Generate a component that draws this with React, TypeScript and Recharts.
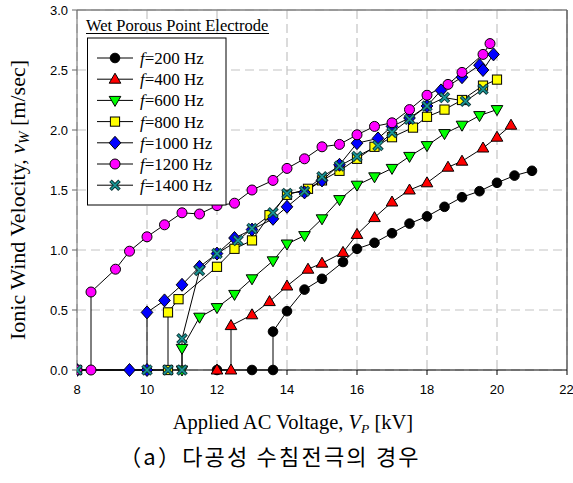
import React from 'react';
import { LineChart, Line, XAxis, YAxis, CartesianGrid, ReferenceLine } from 'recharts';

// ---- data (kV, m/sec) ----
const x200 = [12, 13, 13.6, 13.6, 14, 14.5, 15, 15.6, 16, 16.5, 17, 17.5, 18, 18.5, 19, 19.5, 20, 20.5, 21];
const y200 = [0, 0, 0, 0.32, 0.49, 0.67, 0.76, 0.9, 1.01, 1.06, 1.14, 1.22, 1.28, 1.36, 1.44, 1.49, 1.56, 1.62, 1.66];

const x400 = [12, 12.4, 12.4, 13, 13.5, 14, 14.6, 15, 15.6, 16, 16.5, 17, 17.5, 18, 18.6, 19, 19.6, 20, 20.4];
const y400 = [0, 0, 0.37, 0.46, 0.57, 0.7, 0.84, 0.89, 0.98, 1.13, 1.27, 1.4, 1.5, 1.56, 1.69, 1.74, 1.85, 1.94, 2.04];

const x600 = [11, 11, 11.5, 12, 12.5, 13, 13.6, 14, 14.5, 15, 15.5, 16, 16.5, 17, 17.5, 18, 18.5, 19, 19.5, 20];
const y600 = [0, 0.18, 0.44, 0.52, 0.63, 0.76, 0.91, 1.05, 1.12, 1.26, 1.42, 1.54, 1.61, 1.68, 1.78, 1.87, 1.97, 2.04, 2.12, 2.17];

const x800 = [8, 10.6, 10.6, 10.9, 12, 12.5, 13, 13.5, 14, 14.6, 15, 15.5, 16, 16.5, 17, 17.6, 18, 18.5, 19, 19.6, 20];
const y800 = [0, 0, 0.48, 0.59, 0.86, 1.01, 1.08, 1.29, 1.46, 1.51, 1.58, 1.66, 1.76, 1.86, 1.94, 2.02, 2.11, 2.17, 2.25, 2.37, 2.42];

const x1000 = [8, 9.5, 10, 10, 10.5, 11, 11.5, 12, 12.5, 13, 13.6, 14, 14.5, 15, 15.5, 16, 16.6, 17, 17.5, 18, 18.4, 19, 19.5, 19.6, 19.9];
const y1000 = [0, 0, 0, 0.48, 0.58, 0.71, 0.86, 0.97, 1.1, 1.17, 1.26, 1.36, 1.48, 1.58, 1.71, 1.89, 1.93, 2.03, 2.1, 2.2, 2.33, 2.44, 2.54, 2.5, 2.63];

const x1200 = [8, 8.4, 8.4, 9.1, 9.5, 10, 10.5, 11, 11.5, 12, 12.5, 13, 13.6, 14, 14.5, 15, 15.5, 16, 16.5, 17, 17.5, 18, 18.6, 19, 19.6, 19.8];
const y1200 = [0, 0, 0.65, 0.84, 0.99, 1.11, 1.21, 1.31, 1.3, 1.37, 1.39, 1.5, 1.58, 1.68, 1.76, 1.86, 1.88, 1.96, 2.03, 2.06, 2.17, 2.29, 2.38, 2.48, 2.63, 2.72];

const x1400 = [8, 10, 10.6, 11, 11, 11.5, 12, 12.6, 13, 13.6, 14, 14.5, 15, 15.5, 16, 16.6, 17, 17.5, 18, 18.5, 19.1, 19.6];
const y1400 = [0, 0, 0, 0, 0.26, 0.83, 0.97, 1.08, 1.18, 1.31, 1.47, 1.49, 1.61, 1.7, 1.78, 1.87, 1.98, 2.09, 2.2, 2.27, 2.24, 2.34];

const freqLabels = ['200', '400', '600', '800', '1000', '1200', '1400'];
const xTicks = [8, 10, 12, 14, 16, 18, 20, 22];
const yTicks = [0, 0.5, 1.0, 1.5, 2.0, 2.5, 3.0];

const toRows = (xs: number[], ys: number[]) => xs.map((x, i) => ({ x, y: ys[i] }));

type Shape = 'circle' | 'triUp' | 'triDown' | 'square' | 'diamond' | 'hex' | 'x';

const seriesDefs: { rows: { x: number; y: number }[]; shape: Shape; fill: string }[] = [
  { rows: toRows(x200, y200), shape: 'circle', fill: '#000000' },
  { rows: toRows(x400, y400), shape: 'triUp', fill: '#ff0000' },
  { rows: toRows(x600, y600), shape: 'triDown', fill: '#00ff00' },
  { rows: toRows(x800, y800), shape: 'square', fill: '#ffff00' },
  { rows: toRows(x1000, y1000), shape: 'diamond', fill: '#0000ff' },
  { rows: toRows(x1200, y1200), shape: 'hex', fill: '#ff00ff' },
  { rows: toRows(x1400, y1400), shape: 'x', fill: '#008080' },
];

function Marker({ shape, fill, cx, cy }: { shape: Shape; fill: string; cx: number; cy: number }) {
  const s = '#000';
  switch (shape) {
    case 'circle':
      return <circle cx={cx} cy={cy} r={4.8} fill={fill} stroke={s} strokeWidth={1} />;
    case 'hex':
      return <circle cx={cx} cy={cy} r={5} fill={fill} stroke={s} strokeWidth={1} />;
    case 'triUp':
      return (
        <polygon
          points={`${cx},${cy - 6} ${cx - 5.8},${cy + 4} ${cx + 5.8},${cy + 4}`}
          fill={fill}
          stroke={s}
          strokeWidth={1}
        />
      );
    case 'triDown':
      return (
        <polygon
          points={`${cx - 5.8},${cy - 4} ${cx + 5.8},${cy - 4} ${cx},${cy + 6}`}
          fill={fill}
          stroke={s}
          strokeWidth={1}
        />
      );
    case 'square':
      return <rect x={cx - 4.6} y={cy - 4.6} width={9.2} height={9.2} fill={fill} stroke={s} strokeWidth={1} />;
    case 'diamond':
      return (
        <polygon
          points={`${cx},${cy - 6.5} ${cx + 5.8},${cy} ${cx},${cy + 6.5} ${cx - 5.8},${cy}`}
          fill={fill}
          stroke={s}
          strokeWidth={1}
        />
      );
    case 'x':
    default:
      return (
        <g>
          <path
            d={`M${cx - 4.5},${cy - 4.5}L${cx + 4.5},${cy + 4.5}M${cx + 4.5},${cy - 4.5}L${cx - 4.5},${cy + 4.5}`}
            stroke="#103838"
            strokeWidth={3.6}
          />
          <path
            d={`M${cx - 4},${cy - 4}L${cx + 4},${cy + 4}M${cx + 4},${cy - 4}L${cx - 4},${cy + 4}`}
            stroke="#1a9a9a"
            strokeWidth={1.6}
          />
        </g>
      );
  }
}

const serif = 'Liberation Serif, Times New Roman, serif';
const sans = 'Liberation Sans, Arial, sans-serif';

export default function App() {
  return (
    <div style={{ position: 'absolute', left: 0, top: 0, width: 573, height: 483, background: '#fff' }}>
      <LineChart width={573} height={483} margin={{ top: 10, right: 6, left: 0, bottom: 0 }}>
        <CartesianGrid stroke="#c4c4c4" strokeDasharray="9 5" strokeWidth={1.2} />
        <XAxis
          type="number"
          dataKey="x"
          domain={[8, 22]}
          ticks={xTicks}
          allowDataOverflow
          height={113}
          stroke="#000"
          tickSize={5}
          tickMargin={10}
          tick={{ fill: '#000', fontSize: 13, fontFamily: sans }}
        />
        <YAxis
          type="number"
          dataKey="y"
          domain={[0, 3]}
          ticks={yTicks}
          width={77}
          stroke="#666"
          tickSize={5}
          tickMargin={4}
          tickFormatter={(v: number) => v.toFixed(1)}
          tick={{ fill: '#000', fontSize: 13, fontFamily: sans }}
        />
        <ReferenceLine y={3} stroke="#808080" strokeWidth={1.5} />
        <ReferenceLine x={22} stroke="#606060" strokeWidth={1.5} />
        {seriesDefs.map((sd, si) => (
          <Line
            key={si}
            data={sd.rows}
            dataKey="y"
            type="linear"
            stroke="#000"
            strokeWidth={1}
            isAnimationActive={false}
            dot={(p: any) => (
              <Marker key={`m-${si}-${p.index}`} shape={sd.shape} fill={sd.fill} cx={p.cx} cy={p.cy} />
            )}
            activeDot={false}
          />
        ))}
      </LineChart>
      <svg
        width={573}
        height={483}
        style={{ position: 'absolute', left: 0, top: 0, pointerEvents: 'none' }}
      >
        <text x={86} y={31} fontFamily={serif} fontSize={16.5} fill="#000">
          Wet Porous Point Electrode
        </text>
        <line x1={86} y1={33.5} x2={269} y2={33.5} stroke="#000" strokeWidth={1} />
        <rect x={87.5} y={38} width={138.5} height={167} fill="#fff" stroke="#000" strokeWidth={1} />
        {seriesDefs.map((sd, i) => {
          const cy = 58 + i * 21.2;
          return (
            <g key={i}>
              <line x1={97} y1={cy} x2={133} y2={cy} stroke="#000" strokeWidth={1} />
              <Marker shape={sd.shape} fill={sd.fill} cx={115} cy={cy} />
              <text x={140} y={cy + 6} fontFamily={serif} fontSize={17} fill="#000">
                <tspan fontStyle="italic">f</tspan>
                {`=${freqLabels[i]} Hz`}
              </text>
            </g>
          );
        })}
        <text
          transform="translate(25,200) rotate(-90)"
          textAnchor="middle"
          fontFamily={serif}
          fontSize={22}
          fill="#000"
        >
          Ionic Wind Velocity,{' '}
          <tspan fontStyle="italic">v</tspan>
          <tspan fontStyle="italic" fontSize={15} dy={4}>
            W
          </tspan>
          <tspan dy={-4}> [m/sec]</tspan>
        </text>
        <text x={293} y={429} textAnchor="middle" fontFamily={serif} fontSize={20.5} fill="#000">
          Applied AC Voltage,{' '}
          <tspan fontStyle="italic">V</tspan>
          <tspan fontStyle="italic" fontSize={13.5} dy={4}>
            P
          </tspan>
          <tspan dy={-4}> [kV]</tspan>
        </text>
        <text
          x={270}
          y={465}
          textAnchor="middle"
          fontFamily={'Noto Sans CJK KR, sans-serif'}
          fontSize={22}
          letterSpacing={2.2}
          fill="#000"
        >
          （a）다공성 수침전극의 경우
        </text>
      </svg>
    </div>
  );
}
